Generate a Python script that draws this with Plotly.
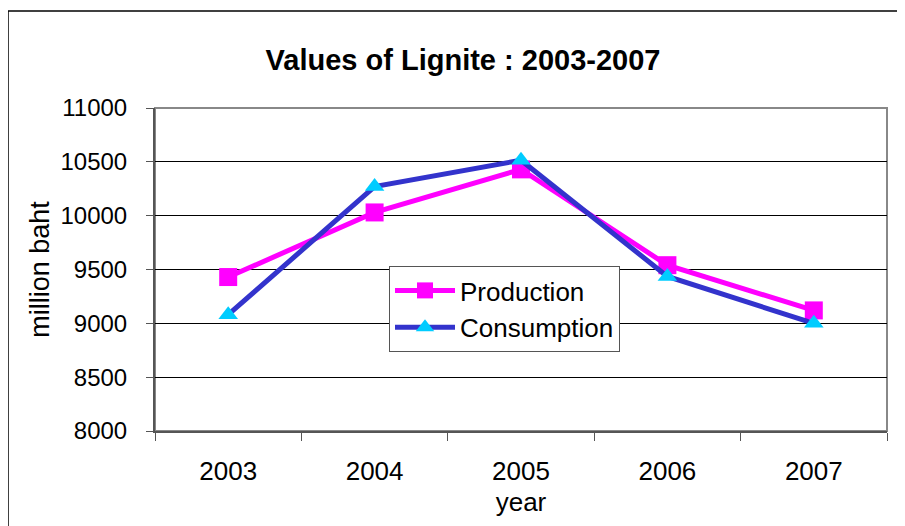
import plotly.graph_objects as go

years = ["2003", "2004", "2005", "2006", "2007"]
production = [9430, 10030, 10430, 9540, 9120]
consumption = [9080, 10270, 10515, 9435, 9000]
y_ticks = [8000, 8500, 9000, 9500, 10000, 10500, 11000]
y_tick_text = [str(v) for v in y_ticks]

# the page body adds an 8px offset; build the figure in page coordinates minus 8
OFF = 8
W, H = 905 - OFF, 526 - OFF
L, R, T, B = 155 - OFF, 18, 108 - OFF, 95
pw, ph = W - L - R, H - T - B

def px(x):
    return (x - OFF - L) / pw

def py(y):
    return (H - B - (y - OFF)) / ph

fig = go.Figure()
fig.add_trace(go.Scatter(
    x=years, y=production, name="Production", mode="lines+markers",
    line=dict(color="#FF00FF", width=5),
    marker=dict(symbol="square", size=18, color="#FF00FF"),
))
fig.add_trace(go.Scatter(
    x=years, y=consumption, name="Consumption", mode="lines+markers",
    line=dict(color="#3333CC", width=5),
    marker=dict(symbol="triangle-up", size=17, color="#00CCFF"),
))

font = "Liberation Sans, Arial, sans-serif"
fig.update_layout(
    width=W, height=H,
    margin=dict(l=L, r=R, t=T, b=B, pad=0),
    paper_bgcolor="white", plot_bgcolor="white",
    font=dict(family=font, size=25, color="black"),
    title=dict(text="<b>Values of Lignite : 2003-2007</b>", x=(463 - OFF) / W, xanchor="center",
               xref="container", y=1 - (60 - OFF) / H, yanchor="middle",
               font=dict(size=29, family=font)),
    legend=dict(x=px(389), y=py(266), xanchor="left", yanchor="top",
                bordercolor="#555555", borderwidth=1, bgcolor="white",
                font=dict(size=26), itemwidth=60, tracegroupgap=0),
    showlegend=True,
)
fig.update_xaxes(
    type="category", range=[-0.5, 4.5], showgrid=False, showline=True,
    linecolor="#555555", linewidth=2,
    ticks="outside", tickson="boundaries", ticklen=8, tickcolor="#555555",
    tickfont=dict(size=26), ticklabelstandoff=16,
    title=dict(text="year", standoff=8, font=dict(size=26)),
    zeroline=False,
)
fig.update_yaxes(
    range=[8000, 11000], tickvals=y_ticks, ticktext=y_tick_text,
    showgrid=True, gridcolor="black", gridwidth=1,
    showline=True, linecolor="#555555", linewidth=2, ticks="outside", ticklen=7,
    tickcolor="#555555", zeroline=False, tickfont=dict(size=24), ticklabelstandoff=14,
    title=dict(text="million baht", standoff=3, font=dict(size=27)),
)
# plot area border in gray
fig.add_shape(type="rect", xref="paper", yref="paper", x0=0, y0=0, x1=1, y1=1,
              line=dict(color="#888888", width=2), layer="below")
# outer chart border (left, top)
fig.add_shape(type="line", xref="paper", yref="paper", x0=px(8), x1=px(8), y0=py(11), y1=py(540),
              line=dict(color="black", width=1.5))
fig.add_shape(type="line", xref="paper", yref="paper", x0=px(8), x1=px(920), y0=py(11), y1=py(11),
              line=dict(color="black", width=1.5))

fig.write_html("out.html")
